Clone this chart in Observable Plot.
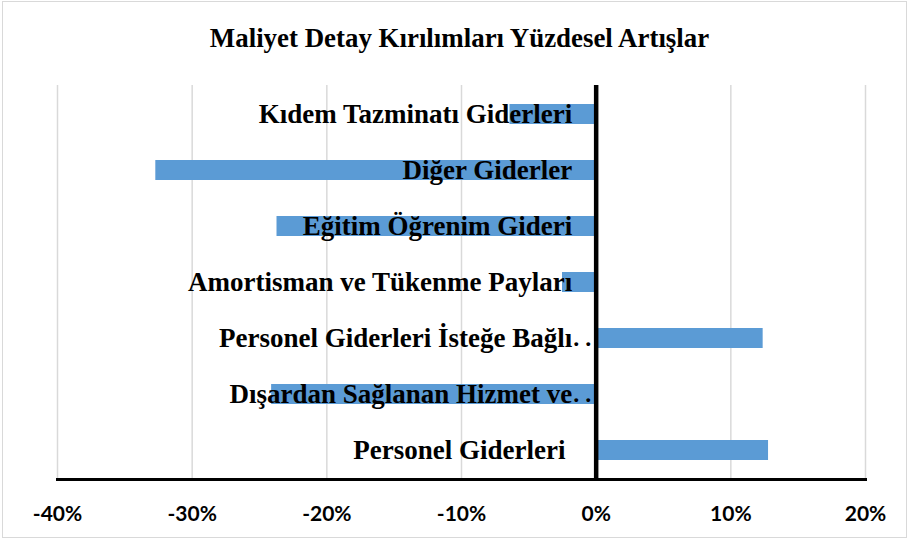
<!DOCTYPE html>
<html>
<head>
<meta charset="utf-8">
<script src="https://cdn.jsdelivr.net/npm/d3@7"></script>
<script src="https://cdn.jsdelivr.net/npm/@observablehq/plot@0.6"></script>
<style>
  html, body { margin: 0; padding: 0; background: #fff; }
  #wrap { position: relative; width: 911px; height: 543px; overflow: hidden; }
  #border { position: absolute; left: 2px; top: 1px; width: 905px; height: 537px; border: 1.5px solid #d9d9d9; box-sizing: border-box; }
  #title { position: absolute; left: 4px; top: 22px; width: 911px; text-align: center; font-family: "Liberation Serif", serif; font-weight: bold; font-size: 26.9px; color: #000; line-height: 32px; }
  #chart { position: absolute; left: 0; top: 60px; }
</style>
</head>
<body>
<div id="wrap">
  <div id="border"></div>
  <div id="title">Maliyet Detay Kırılımları Yüzdesel Artışlar</div>
  <div id="chart"></div>
</div>
<script>
const categories = [
  "Kıdem Tazminatı Giderleri",
  "Diğer Giderler",
  "Eğitim Öğrenim Gideri",
  "Amortisman ve Tükenme Payları",
  "Personel Giderleri İsteğe Bağlı",
  "Dışardan Sağlanan Hizmet ve",
  "Personel Giderleri "
];
const labelSuffix = ["", "", "", "", ". .", ". .", ""];
const values = [-0.064, -0.327, -0.237, -0.025, 0.124, -0.241, 0.128];
const tickValues = [-0.4, -0.3, -0.2, -0.1, 0, 0.1, 0.2];

const data = categories.map((c, i) => ({category: c, value: values[i], suffix: labelSuffix[i]}));

const labelFont = {fontFamily: "Liberation Serif", fontWeight: "bold", fontSize: 27, fill: "#000"};

const chart = Plot.plot({
  width: 911,
  height: 479,
  marginLeft: 57,
  marginRight: 46,
  marginTop: 25,
  marginBottom: 60,
  x: {domain: [-0.4, 0.2], ticks: tickValues},
  y: {domain: categories, paddingInner: 0.645, paddingOuter: 0.3, axis: null},
  style: {background: "transparent"},
  marks: [
    Plot.gridX(tickValues, {stroke: "#d9d9d9", strokeOpacity: 1, strokeWidth: 1.5}),
    Plot.barX(data, {x: "value", y: "category", fill: "#5b9bd5"}),
    Plot.text(data, {x: () => 0, y: "category", text: "category", dx: -24, textAnchor: "end", ...labelFont}),
    Plot.text(data.filter(d => d.suffix), {x: () => 0, y: "category", text: "suffix", dx: -23, textAnchor: "start", ...labelFont, fontSize: 24}),
    Plot.ruleX([0], {stroke: "#000", strokeWidth: 4.5}),
    Plot.frame({anchor: "bottom", stroke: "#000", strokeWidth: 3}),
    Plot.axisX({
      ticks: tickValues, tickSize: 0, tickPadding: 27,
      tickFormat: d => Math.round(d * 100) + "%",
      fontFamily: "Lato", fontWeight: "bold", fontSize: 21, fill: "#000", label: null
    })
  ]
});
document.getElementById("chart").appendChild(chart);
</script>
</body>
</html>
